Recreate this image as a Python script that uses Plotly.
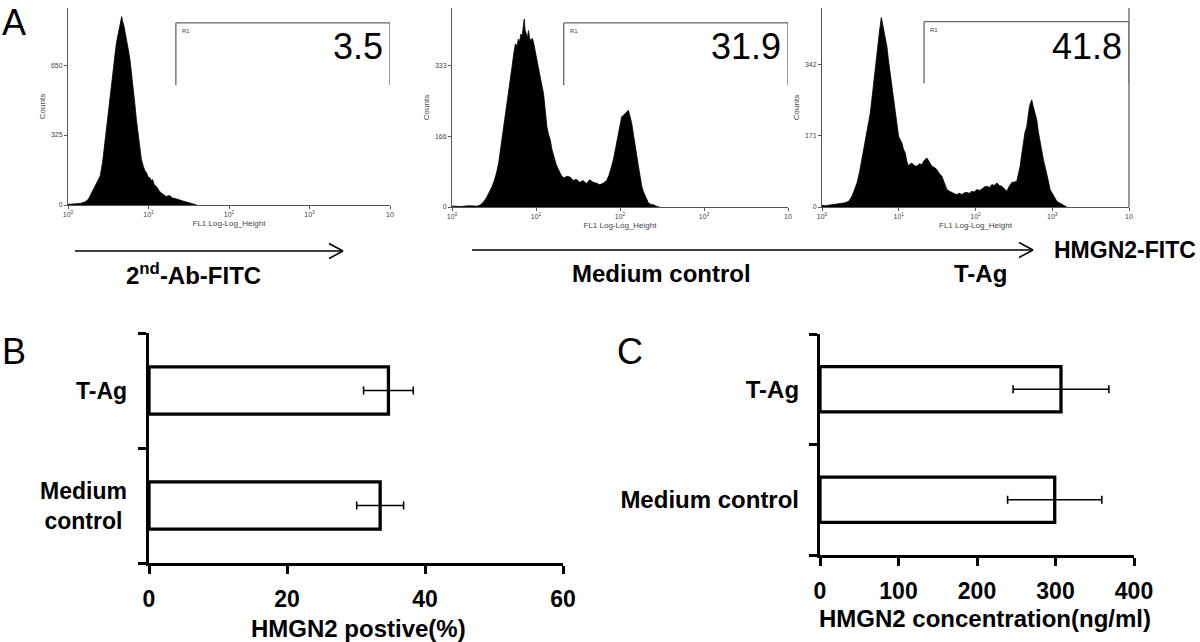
import plotly.graph_objects as go

W, H = 1200, 642
def px(x): return x / W
def py(y): return 1 - y / H

FONT = "Liberation Sans"

# ---------------- Panel A data (log10 FL1 intensity vs counts) ----------------
h1_log = [0.00, 0.05, 0.10, 0.15, 0.21, 0.25, 0.27, 0.30, 0.335, 0.37, 0.40, 0.43, 0.46, 0.48, 0.50,
          0.52, 0.54, 0.56, 0.585, 0.60, 0.625, 0.64, 0.655, 0.667, 0.68, 0.696, 0.71, 0.73, 0.75, 0.77,
          0.79, 0.81, 0.83, 0.85, 0.87, 0.89, 0.91, 0.935, 0.955, 0.975, 0.995, 1.02, 1.04, 1.05, 1.07,
          1.10, 1.12, 1.14, 1.18, 1.22, 1.26, 1.30, 1.35, 1.39, 1.43, 1.47, 1.52, 1.56, 1.60]
h1_cnt = [3, 5, 8, 7, 14, 25, 39, 60, 85, 110, 135, 200, 300, 350, 410,
          480, 565, 640, 705, 750, 797, 830, 860, 875, 850, 830, 800, 765, 720, 675,
          615, 550, 470, 395, 330, 260, 215, 180, 160, 150, 130, 125, 110, 118, 95,
          85, 70, 62, 50, 40, 44, 32, 28, 22, 18, 14, 8, 4, 0]

h2_log = [0.00, 0.10, 0.20, 0.30, 0.34, 0.38, 0.41, 0.44, 0.47, 0.50, 0.53, 0.555, 0.575, 0.595, 0.615,
          0.635, 0.655, 0.675, 0.695, 0.715, 0.735, 0.755, 0.775, 0.79, 0.805, 0.82, 0.835, 0.845, 0.86,
          0.87, 0.885, 0.90, 0.91, 0.925, 0.94, 0.955, 0.97, 0.99, 1.01, 1.03, 1.05, 1.07, 1.09, 1.11,
          1.13, 1.15, 1.17, 1.19, 1.21, 1.24, 1.27, 1.30, 1.33, 1.37, 1.41, 1.44, 1.48, 1.52, 1.56, 1.60,
          1.64, 1.68, 1.72, 1.76, 1.80, 1.84, 1.87, 1.90, 1.92, 1.95, 1.98, 2.00, 2.02, 2.04, 2.06, 2.08,
          2.10, 2.12, 2.14, 2.16, 2.18, 2.20, 2.22, 2.24, 2.26, 2.28, 2.30, 2.32, 2.34, 2.37, 2.40, 2.43,
          2.47]
h2_cnt = [2, 1, 3, 2, 5, 13, 22, 33, 45, 60, 80, 103, 130, 157, 190,
          220, 245, 275, 300, 330, 360, 383, 378, 394, 388, 406, 400, 422, 441,
          415, 406, 398, 414, 395, 391, 396, 387, 365, 344, 325, 305, 285, 266, 225,
          188, 170, 157, 135, 118, 100, 87, 75, 68, 72, 70, 62, 65, 58, 62, 55,
          64, 58, 56, 52, 56, 62, 75, 95, 110, 140, 173, 195, 212, 215, 219, 222,
          227, 212, 196, 170, 149, 120, 95, 70, 48, 35, 25, 15, 9, 6, 5, 2,
          0]

h3_log = [0.00, 0.05, 0.11, 0.17, 0.24, 0.30, 0.35, 0.39, 0.42, 0.456, 0.49, 0.52, 0.55, 0.586, 0.61,
          0.629, 0.65, 0.672, 0.69, 0.716, 0.735, 0.751, 0.762, 0.772, 0.785, 0.803, 0.825, 0.846, 0.865,
          0.889, 0.92, 0.954, 0.975, 0.998, 1.02, 1.041, 1.06, 1.085, 1.105, 1.128, 1.15, 1.171, 1.20,
          1.236, 1.27, 1.302, 1.33, 1.367, 1.40, 1.432, 1.465, 1.497, 1.53, 1.562, 1.595, 1.627, 1.66,
          1.692, 1.725, 1.757, 1.79, 1.822, 1.855, 1.887, 1.92, 1.952, 1.985, 2.017, 2.05, 2.082, 2.115,
          2.148, 2.18, 2.213, 2.245, 2.278, 2.31, 2.343, 2.375, 2.408, 2.44, 2.473, 2.505, 2.538, 2.56,
          2.581, 2.605, 2.625, 2.645, 2.668, 2.685, 2.703, 2.72, 2.733, 2.748, 2.764, 2.78, 2.798, 2.82,
          2.842, 2.865, 2.885, 2.905, 2.928, 2.95, 2.972, 2.995, 3.015, 3.037, 3.059, 3.09, 3.124, 3.16,
          3.19]
h3_cnt = [4, 3, 5, 7, 9, 10, 14, 26, 40, 58, 85, 114, 145, 178, 205,
          226, 260, 298, 335, 378, 405, 426, 440, 456, 445, 426, 405, 386, 355,
          322, 280, 234, 200, 170, 162, 154, 140, 130, 110, 98, 104, 106, 100,
          98, 104, 102, 112, 118, 108, 98, 95, 90, 80, 74, 58, 42, 38,
          34, 32, 30, 33, 30, 34, 35, 33, 38, 36, 42, 40, 43, 48,
          50, 47, 54, 52, 58, 52, 50, 44, 38, 50, 59, 60, 62, 80,
          98, 130, 162, 180, 194, 220, 242, 252, 258, 245, 234, 222, 210, 180,
          154, 130, 114, 98, 82, 62, 42, 34, 26, 20, 14, 10, 6, 3,
          0]

hist_logs = [h1_log, h2_log, h3_log]
hist_counts = [h1_cnt, h2_cnt, h3_cnt]
hist_ymax = [915, 467, 479]
hist_yticks = [[0, 325, 650], [0, 166, 333], [0, 171, 342]]
fl1_ticks = [0, 1, 2, 3, 4]
fl1_ticktext = ["10<sup>0</sup>", "10<sup>1</sup>", "10<sup>2</sup>", "10<sup>3</sup>", "10"]
gate_left = [1.34, 1.33, 1.33]
gate_top = [846, 432, 446]
gate_bottom = [557, 286, 298]
r1_percent = ["3.5", "31.9", "41.8"]
sample_labels = ["2<sup>nd</sup>-Ab-FITC", "Medium control", "T-Ag"]

# ---------------- Panel B / C data ----------------
b_categories = ["Medium<br>control", "T-Ag"]
b_means = [33.5, 34.7]
b_errors = [3.4, 3.6]
b_ticks = [0, 20, 40, 60]

c_categories = ["Medium control", "T-Ag"]
c_means = [299, 307]
c_errors = [60, 61]
c_ticks = [0, 100, 200, 300, 400]

# ---------------- layout geometry (pixels) ----------------
hist_box = [(68, 390, 8, 205), (452, 788, 8, 207), (822, 1129, 8, 207)]

fig = go.Figure()
layout = dict(autosize=True, height=H, margin=dict(l=0, r=0, t=0, b=0, autoexpand=False),
              paper_bgcolor="white", plot_bgcolor="white", showlegend=False,
              font=dict(family=FONT, color="black"))
shapes, annotations = [], []

for i in range(3):
    n = i + 1
    xa, ya = f"x{n}", f"y{n}"
    x0, x1, y0, y1 = hist_box[i]
    fig.add_trace(go.Scatter(x=hist_logs[i], y=hist_counts[i], mode="lines", fill="tozeroy",
                             line=dict(color="black", width=0.8), fillcolor="black",
                             xaxis=xa, yaxis=ya, hoverinfo="skip"))
    layout[f"xaxis{n}"] = dict(domain=[px(x0), px(x1)], anchor=ya, range=[0, 4],
                               tickvals=fl1_ticks, ticktext=fl1_ticktext,
                               showline=True, linecolor="#555", linewidth=1, ticks="outside",
                               ticklen=3, tickcolor="#555", tickfont=dict(size=7, color="#444"),
                               showgrid=False, zeroline=False,
                               title=dict(text="FL1 Log-Log_Height", font=dict(size=8, color="#444"), standoff=2))
    layout[f"yaxis{n}"] = dict(domain=[py(y1), py(y0)], anchor=xa, range=[0, hist_ymax[i]],
                               tickvals=hist_yticks[i], showline=True, linecolor="#555", linewidth=1,
                               ticks="outside", ticklen=3, tickcolor="#555",
                               tickfont=dict(size=7, color="#444"), showgrid=False, zeroline=False,
                               title=dict(text="Counts", font=dict(size=8, color="#444"), standoff=4))
    # gate R1
    for (ax0, ay0, ax1, ay1) in [(gate_left[i], gate_bottom[i], gate_left[i], gate_top[i]),
                                 (gate_left[i], gate_top[i], 4, gate_top[i]),
                                 (4, gate_top[i], 4, gate_bottom[i])]:
        shapes.append(dict(type="line", xref=xa, yref=ya, x0=ax0, y0=ay0, x1=ax1, y1=ay1,
                           line=dict(color="#666", width=1.3)))
    annotations.append(dict(text="R1", xref=xa, yref=ya, x=gate_left[i], y=gate_top[i],
                            xanchor="left", yanchor="top", xshift=4, yshift=-3, showarrow=False,
                            font=dict(size=6, color="#444")))
    annotations.append(dict(text=r1_percent[i], xref=xa, yref="paper", x=4, y=py(47),
                            xanchor="right", yanchor="middle", xshift=-5, showarrow=False,
                            font=dict(size=36, color="black")))

# right frame line of third histogram
shapes.append(dict(type="line", xref="paper", yref="paper", x0=px(1129), x1=px(1129),
                   y0=py(8), y1=py(207), line=dict(color="#666", width=1.3)))

# arrows
def arrow(xa0, xa1, yy, color="black"):
    shapes.append(dict(type="line", xref="paper", yref="paper", x0=px(xa0), x1=px(xa1),
                       y0=py(yy), y1=py(yy), line=dict(color=color, width=1.5)))
    for dy in (-7.5, 7.5):
        shapes.append(dict(type="line", xref="paper", yref="paper", x0=px(xa1 - 14), x1=px(xa1),
                           y0=py(yy + dy), y1=py(yy), line=dict(color=color, width=1.5)))
arrow(75, 343, 251)
arrow(472, 1033, 250)

label_pos = [(193, 274), (661, 274), (980, 274)]
for lab, (lx, ly) in zip(sample_labels, label_pos):
    annotations.append(dict(text=f"<b>{lab}</b>", xref="paper", yref="paper", x=px(lx), y=py(ly),
                            xanchor="center", yanchor="middle", showarrow=False,
                            font=dict(size=24, color="black")))
annotations.append(dict(text="<b>HMGN2-FITC</b>", xref="paper", yref="paper", x=px(1197), y=py(250),
                        xanchor="right", yanchor="middle", showarrow=False, borderpad=0,
                        font=dict(size=23)))

# panel letters
for letter, (lx, ly) in zip(["A", "B", "C"], [(14, 22), (14, 351), (630, 352)]):
    annotations.append(dict(text=letter, xref="paper", yref="paper", x=px(lx), y=py(ly),
                            xanchor="center", yanchor="middle", showarrow=False,
                            font=dict(size=36, color="black")))

# ---------------- Panels B and C ----------------
bar_style = dict(orientation="h", width=0.41,
                 marker=dict(color="white", line=dict(color="black", width=3.3)),
                 hoverinfo="skip")
fig.add_trace(go.Bar(y=b_categories, x=b_means, xaxis="x4", yaxis="y4",
                     error_x=dict(type="data", array=b_errors, color="black", thickness=1.6, width=4),
                     **bar_style))
fig.add_trace(go.Bar(y=c_categories, x=c_means, xaxis="x5", yaxis="y5",
                     error_x=dict(type="data", array=c_errors, color="black", thickness=1.6, width=4),
                     **bar_style))

bold_tick = dict(size=23, color="black", family=FONT, weight="bold")
def xbar(domain, rng, ticks, anchor):
    return dict(domain=domain, anchor=anchor, range=rng, tickvals=ticks, showline=True,
                linecolor="black", linewidth=3.3, ticks="outside", ticklen=8, tickwidth=3.3,
                tickcolor="black", tickfont=bold_tick, showgrid=False, zeroline=False,
                ticklabelstandoff=5)
def ybar(domain, anchor, show_labels):
    return dict(domain=domain, anchor=anchor, type="category", range=[-0.5, 1.5],
                tickson="boundaries", showline=True, linecolor="black", linewidth=3.3,
                ticks="outside", ticklen=8, tickwidth=3.3, tickcolor="black",
                tickfont=dict(bold_tick, size=24),
                showgrid=False, zeroline=False, showticklabels=show_labels, ticklabelstandoff=13)

layout["xaxis4"] = xbar([px(149), px(563)], [0, 60], b_ticks, "y4")
layout["yaxis4"] = ybar([py(563), py(333)], "x4", False)
layout["xaxis5"] = xbar([px(820), px(1134)], [0, 400], c_ticks, "y5")
layout["yaxis5"] = ybar([py(555), py(334)], "x5", True)

for cat in b_categories:
    annotations.append(dict(text=f"<b>{cat}</b>", xref="paper", yref="y4", x=px(129), y=cat,
                            xanchor="right", yanchor="middle", align="center", showarrow=False,
                            font=dict(size=23, color="black")))

annotations.append(dict(text="<b>HMGN2 postive(%)</b>", xref="paper", yref="paper", x=px(358), y=py(628),
                        xanchor="center", yanchor="middle", showarrow=False, font=dict(size=24)))
annotations.append(dict(text="<b>HMGN2 concentration(ng/ml)</b>", xref="paper", yref="paper", x=px(985),
                        y=py(618), xanchor="center", yanchor="middle", showarrow=False, font=dict(size=24)))

layout["shapes"] = shapes
layout["annotations"] = annotations
fig.update_layout(**layout)
fig.write_html("out.html", default_width="100%", default_height=f"{H}px",
               config={"displayModeBar": False, "responsive": True},
               post_script="document.documentElement.style.overflow='hidden';"
                           "document.body.style.margin='0px';document.body.style.overflow='hidden';"
                           "Plotly.Plots.resize(document.getElementById('{plot_id}'));")
